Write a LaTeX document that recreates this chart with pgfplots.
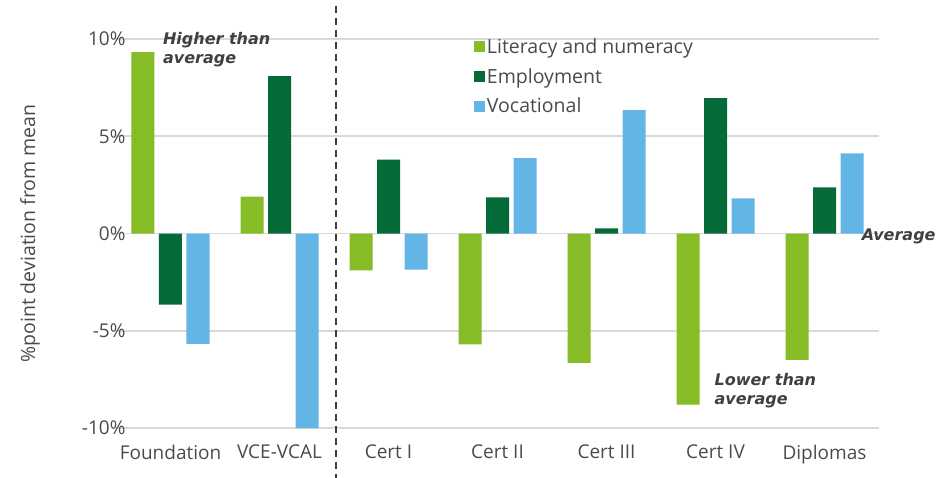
\documentclass[border=0pt]{standalone}
\usepackage{pgfplots}
\pgfplotsset{compat=1.18}
\usepackage{fontspec}
\setmainfont{Open Sans}
\newfontfamily\annfont{DejaVu Sans}
\definecolor{litgreen}{HTML}{86BC25}
\definecolor{empgreen}{HTML}{046A38}
\definecolor{vocblue}{HTML}{62B5E5}
\definecolor{txtgray}{HTML}{404040}
\definecolor{lblgray}{HTML}{4A4A4A}
\definecolor{gridgray}{HTML}{D9D9D9}

\begin{document}
\begin{tikzpicture}
\begin{axis}[
  scale only axis, width=763pt, height=389pt,
  ybar=4.5pt, bar width=23pt,
  xmin=-0.5, xmax=6.5, ymin=-10, ymax=10,
  xtick={0,1,2,3,4,5,6},
  xticklabels={Foundation,VCE-VCAL,Cert I,Cert II,Cert III,Cert IV,Diplomas},
  ytick={-10,-5,0,5,10},
  yticklabels={-10\%,-5\%,0\%,5\%,10\%},
  axis line style={draw=none},
  major tick style={draw=none},
  ymajorgrids, grid style={gridgray, line width=1.5pt},
  tick label style={font=\fontsize{19}{22}\selectfont, text=lblgray},
  xticklabel style={yshift=-9pt},
  yticklabel style={xshift=13pt},
  ylabel={\%point deviation from mean},
  ylabel style={font=\fontsize{19.5}{22}\selectfont, text=lblgray,
    at={(rel axis cs:0,0.5)}, anchor=center, yshift=86pt},
  clip=false,
  legend style={at={(rel axis cs:0.465,1.012)}, anchor=north west, draw=none, fill=none,
    font=\fontsize{19.5}{22}\selectfont, text=lblgray, row sep=9.5pt},
  legend cell align=left,
  legend image code/.code={\fill[#1] (0pt,-5.5pt) rectangle (11pt,5.5pt);},
]
\addplot[fill=litgreen, draw=none] coordinates {(0,9.33) (1,1.9) (2,-1.9) (3,-5.7) (4,-6.65) (5,-8.8) (6,-6.5)};
\addplot[fill=empgreen, draw=none] coordinates {(0,-3.66) (1,8.09) (2,3.8) (3,1.86) (4,0.26) (5,6.96) (6,2.37)};
\addplot[fill=vocblue, draw=none] coordinates {(0,-5.67) (1,-10) (2,-1.86) (3,3.87) (4,6.34) (5,1.8) (6,4.12)};
\legend{Literacy and numeracy, Employment, Vocational}
\coordinate (O) at (rel axis cs:0,0);
\draw[txtgray, line width=1.8pt, dash pattern=on 7pt off 5pt] (axis cs:1.52,11.72) -- (axis cs:1.52,-12.55);
\node[anchor=north west, align=left, inner sep=0pt, text=txtgray,
  font=\annfont\bfseries\itshape\fontsize{16}{19}\selectfont] at (axis cs:-0.07,10.35) {Higher than\\average};
\node[anchor=west, inner sep=0pt, text=txtgray,
  font=\annfont\bfseries\itshape\fontsize{16}{19}\selectfont] at (axis cs:6.34,-0.15) {Average};
\node[anchor=north west, align=left, inner sep=0pt, text=txtgray,
  font=\annfont\bfseries\itshape\fontsize{16}{19}\selectfont] at (axis cs:4.99,-7.2) {Lower than\\average};
\end{axis}
\pgfresetboundingbox
\path[use as bounding box] ([shift={(-116pt,-49pt)}]O) rectangle ([shift={(821pt,428pt)}]O);
\end{tikzpicture}
\end{document}
